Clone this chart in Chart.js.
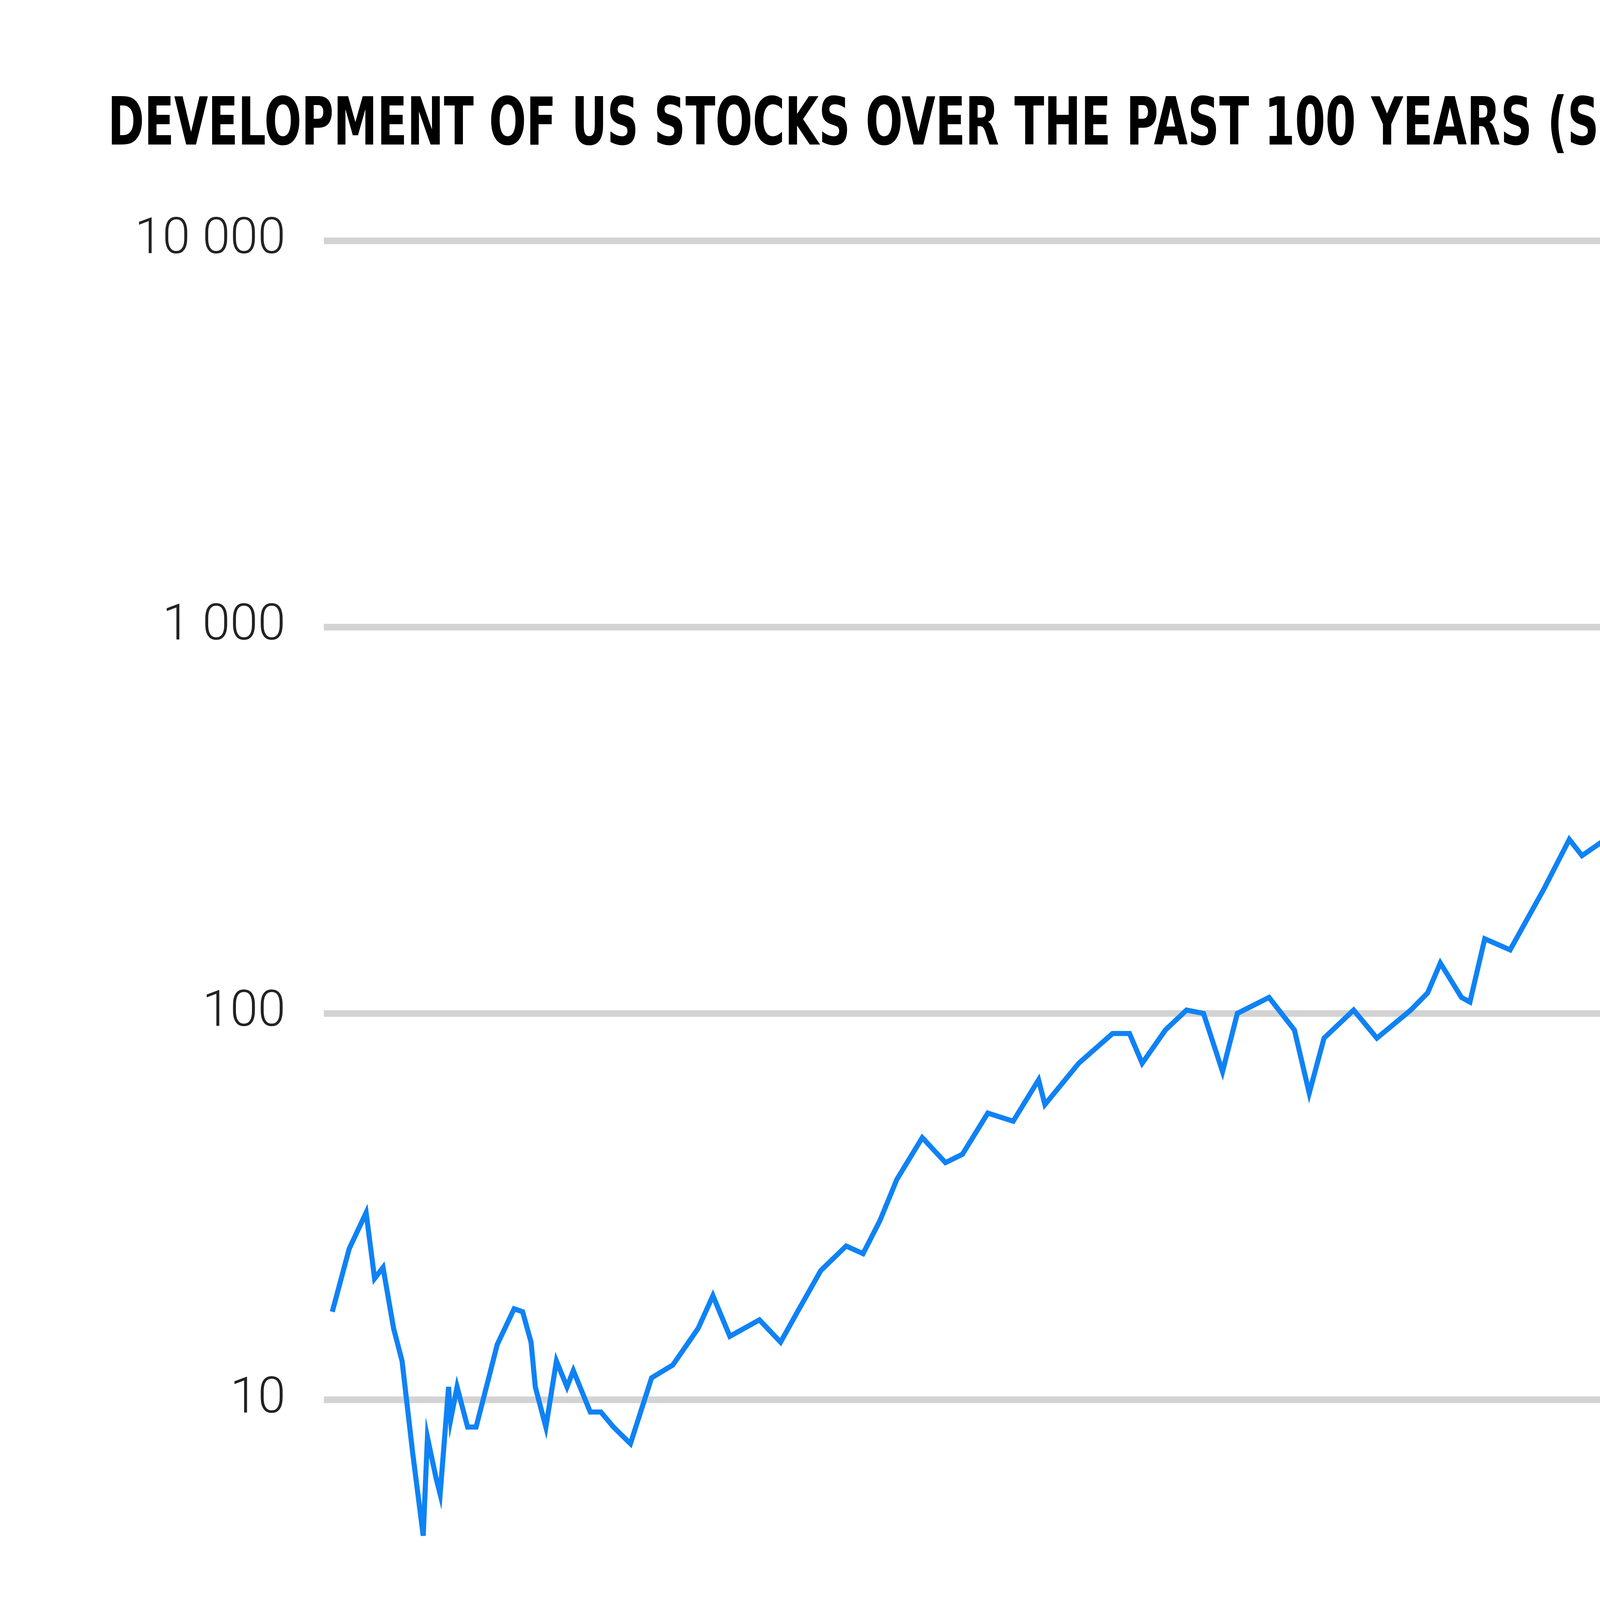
<!DOCTYPE html>
<html>
<head>
<meta charset="utf-8">
<script src="https://cdn.jsdelivr.net/npm/chart.js@4.4.0/dist/chart.umd.min.js"></script>
<style>
  html, body { margin: 0; padding: 0; background: #fff; }
  canvas { display: block; }
</style>
</head>
<body>
<canvas id="chart" width="6667" height="5000"></canvas>
<script>
// S&P 500 equivalent, price index
const years = [
    1927.0, 1927.8, 1928.6, 1929.0, 1929.4, 1929.9, 1930.3, 1930.8, 1931.3, 1931.5,
    1931.9, 1932.1, 1932.5, 1932.6, 1932.9, 1933.4, 1933.8, 1934.4, 1934.8, 1935.6,
    1936.0, 1936.4, 1936.6, 1937.1, 1937.6, 1938.1, 1938.4, 1939.2, 1939.7, 1940.3,
    1941.1, 1942.1, 1943.1, 1944.3, 1945.0, 1945.8, 1947.2, 1948.2, 1949.0, 1950.1,
    1951.3, 1952.1, 1952.9, 1953.7, 1954.9, 1956.0, 1956.8, 1958.0, 1959.2, 1960.4,
    1960.7, 1962.3, 1963.9, 1964.7, 1965.3, 1966.4, 1967.4, 1968.2, 1969.1, 1969.8,
    1971.3, 1972.5, 1973.2, 1973.9, 1975.3, 1976.4, 1978.0, 1978.8, 1979.4, 1980.4,
    1980.8, 1981.5, 1982.7, 1984.3, 1985.5, 1986.1, 1987.8, 1989.0, 1989.2, 1990.6,
    1992.1, 1993.3, 1994.5, 1995.7, 1996.9, 1998.0, 1998.8, 1999.4, 2000.0, 2001.0,
    2002.4, 2003.9, 2005.5, 2005.9, 2006.6, 2007.1, 2007.8, 2009.3, 2009.8, 2011.0,
    2012.6, 2013.3, 2014.9, 2016.5, 2018.0, 2019.0, 2019.9, 2020.9, 2022.0
];
const values = [
    16.9, 24.6, 30.5, 20.6, 22.0, 15.3, 12.6, 7.3, 4.45, 8.0,
    6.3, 5.7, 10.8, 8.9, 10.8, 8.5, 8.5, 11.4, 13.9, 17.2,
    16.9, 14.1, 10.8, 8.5, 12.6, 10.8, 11.9, 9.3, 9.3, 8.5,
    7.7, 11.4, 12.3, 15.3, 18.6, 14.6, 16.1, 14.1, 16.9, 21.6,
    25.0, 23.9, 29.1, 37.2, 47.7, 41.1, 43.2, 55.2, 52.6, 67.3,
    58.1, 74.3, 88.7, 88.7, 74.3, 90.6, 102, 100, 70.7, 100,
    110, 90.6, 62.2, 86.3, 102, 86.3, 102, 113, 135, 110,
    107, 156, 146, 210, 282, 256, 297, 327, 303, 399,
    449, 462, 622, 863, 1021, 1372, 1442, 1160, 1021, 796,
    1072, 1183, 1413, 1468, 1208, 782, 1072, 1241, 1148, 1442,
    1884, 1997, 2249, 2742, 3027, 3690, 4492, 3873, 4955
];
const yTicks = [10, 100, 1000, 10000];
const xTicks = [1950, 2000];
const title = 'DEVELOPMENT OF US STOCKS OVER THE PAST 100 YEARS (S&P 500 EQUIVALENT, PRICE INDEX)';

const Y_MIN = 2.77;

// 제목 그리기 (좁은 굵은 글꼴을 원본 폭에 맞춤)
const titlePlugin = {
    id: 'titleText',
    afterDraw(chart) {
        const ctx = chart.ctx;
        ctx.save();
        ctx.font = 'bold 170px "Liberation Sans Narrow", "DejaVu Sans Condensed", sans-serif';
        ctx.fillStyle = '#000';
        ctx.textBaseline = 'alphabetic';
        const w = ctx.measureText(title).width;
        const target = 6014;
        ctx.translate(276, 370);
        ctx.scale(target / w, 1);
        ctx.fillText(title, 0, 0);
        ctx.restore();
    }
};

const fmt = v => String(v).replace(/\B(?=(\d{3})+(?!\d))/g, ' ');

new Chart(document.getElementById('chart').getContext('2d'), {
    type: 'line',
    data: {
        datasets: [{
            data: years.map((x, i) => ({ x: x, y: values[i] })),
            borderColor: '#0f82f5',
            borderWidth: 13,
            pointRadius: 0,
            tension: 0,
            fill: false
        }]
    },
    options: {
        responsive: false,
        animation: false,
        devicePixelRatio: 1,
        layout: { padding: { left: 0, right: 560, top: 616, bottom: 0 } },
        plugins: { legend: { display: false }, tooltip: { enabled: false } },
        scales: {
            x: {
                type: 'linear',
                min: 1926.6,
                max: 2024.1,
                afterBuildTicks: s => { s.ticks = xTicks.map(v => ({ value: v })); },
                afterFit: s => { s.height = 865; },
                grid: { display: false },
                border: { display: false },
                ticks: {
                    padding: 110,
                    color: '#222',
                    font: { family: 'Roboto', size: 128, weight: 300 },
                    callback: v => String(v)
                }
            },
            y: {
                type: 'logarithmic',
                min: Y_MIN,
                max: 10000,
                afterBuildTicks: s => { s.ticks = [Y_MIN].concat(yTicks).map(v => ({ value: v })); },
                afterFit: s => { s.width = 829; },
                grid: { color: '#d3d3d3', lineWidth: 17, drawTicks: false },
                border: { display: false },
                ticks: {
                    padding: 98,
                    color: '#222',
                    font: { family: 'Roboto', size: 128, weight: 300 },
                    callback: v => (v === Y_MIN ? '' : fmt(v))
                }
            }
        }
    },
    plugins: [titlePlugin]
});
</script>
</body>
</html>
